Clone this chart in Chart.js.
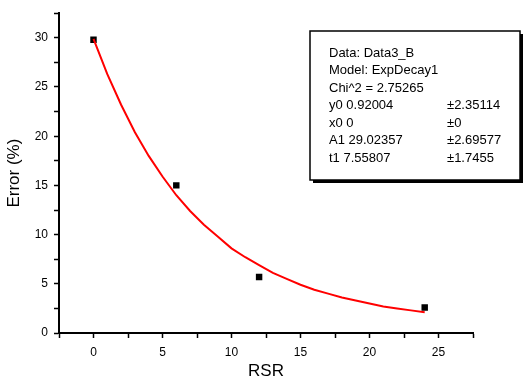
<!DOCTYPE html>
<html>
<head>
<meta charset="utf-8">
<script src="https://cdn.jsdelivr.net/npm/chart.js@4/dist/chart.umd.min.js"></script>
<style>
  html, body { margin: 0; padding: 0; background: #fff; }
  #wrap { width: 525px; height: 382px; }
</style>
</head>
<body>
<div id="wrap"><canvas id="chart" width="525" height="382"></canvas></div>
<script>
// measured points
const rsrPoints = [0, 6, 12, 24];
const errorPoints = [29.8, 15.0, 5.7, 2.6];

// fitted curve as drawn
const fitX = [0, 1, 2, 3, 4, 5, 6, 7, 8, 9, 10, 11, 12, 13, 14, 15, 16, 17, 18, 19, 20, 21, 22, 23, 24];
const fitY = [29.9, 26.3, 23.2, 20.4, 18.0, 15.9, 14.0, 12.4, 11.0, 9.8, 8.6, 7.7, 6.9, 6.1, 5.5, 4.9, 4.4, 4.0, 3.6, 3.3, 3.0, 2.7, 2.5, 2.3, 2.1];

// fit report
const reportLines = ['Data: Data3_B', 'Model: ExpDecay1', 'Chi^2 = 2.75265'];
const paramNames = ['y0', 'x0', 'A1', 't1'];
const paramValues = ['0.92004', '0', '29.02357', '7.55807'];
const paramErrors = ['\u00b12.35114', '\u00b10', '\u00b12.69577', '\u00b11.7455'];

const xTitle = 'RSR';
const yTitle = 'Error (%)';

const FONT = 'Arial, "Liberation Sans", sans-serif';

// draws the boxed fit report
const reportBox = {
    id: 'reportBox',
    afterDraw(chart) {
        const ctx = chart.ctx;
        const x = 310, y = 31, w = 210, h = 149;
        ctx.save();
        ctx.fillStyle = '#000';
        ctx.fillRect(x + 3, y + 3, w, h);
        ctx.fillStyle = '#fff';
        ctx.fillRect(x, y, w, h);
        ctx.strokeStyle = '#000';
        ctx.lineWidth = 1.5;
        ctx.strokeRect(x, y, w, h);

        ctx.fillStyle = '#000';
        ctx.font = '13px ' + FONT;
        ctx.textBaseline = 'middle';
        let ty = 53;
        reportLines.forEach(line => {
            ctx.fillText(line, 329, ty);
            ty += 17.5;
        });
        paramNames.forEach((name, i) => {
            ctx.fillText(name + ' ' + paramValues[i], 329, ty);
            ctx.fillText(paramErrors[i], 447, ty);
            ty += 17.5;
        });
        ctx.restore();
    }
};

const ctx = document.getElementById('chart').getContext('2d');
new Chart(ctx, {
    type: 'scatter',
    data: {
        datasets: [
            {
                type: 'line',
                data: fitX.map((x, i) => ({ x: x, y: fitY[i] })),
                borderColor: '#ff0000',
                borderWidth: 2,
                pointRadius: 0,
                fill: false,
                order: 0
            },
            {
                data: rsrPoints.map((x, i) => ({ x: x, y: errorPoints[i] })),
                pointStyle: 'rect',
                pointRadius: 3.5,
                pointBorderWidth: 1.5,
                pointBackgroundColor: '#000',
                pointBorderColor: '#000',
                order: 1
            }
        ]
    },
    options: {
        responsive: false,
        animation: false,
        layout: { padding: { top: 12, right: 52, left: 0, bottom: 0 } },
        plugins: {
            legend: { display: false },
            tooltip: { enabled: false }
        },
        scales: {
            x: {
                type: 'linear',
                min: -2.5,
                max: 27.5,
                afterFit: scale => { scale.height = 49; },
                border: { color: '#000', width: 2 },
                grid: { drawOnChartArea: false, tickLength: 5, tickColor: '#000', tickWidth: 1.5 },
                ticks: {
                    stepSize: 2.5,
                    color: '#000',
                    font: { family: FONT, size: 12 },
                    padding: 7,
                    maxRotation: 0,
                    callback: v => (v % 5 === 0 ? v : '')
                },
                title: {
                    display: true,
                    text: xTitle,
                    color: '#000',
                    font: { family: FONT, size: 17 },
                    padding: { top: 6, bottom: 0 }
                }
            },
            y: {
                type: 'linear',
                min: 0,
                max: 32.5,
                afterFit: scale => { scale.width = 59; },
                border: { color: '#000', width: 2 },
                grid: { drawOnChartArea: false, tickLength: 5, tickColor: '#000', tickWidth: 1.5 },
                ticks: {
                    stepSize: 2.5,
                    color: '#000',
                    font: { family: FONT, size: 12 },
                    padding: 6,
                    callback: v => (v % 5 === 0 ? v : '')
                },
                title: {
                    display: true,
                    text: yTitle,
                    color: '#000',
                    font: { family: FONT, size: 17 },
                    padding: { bottom: 0 }
                }
            }
        }
    },
    plugins: [reportBox]
});
</script>
</body>
</html>
